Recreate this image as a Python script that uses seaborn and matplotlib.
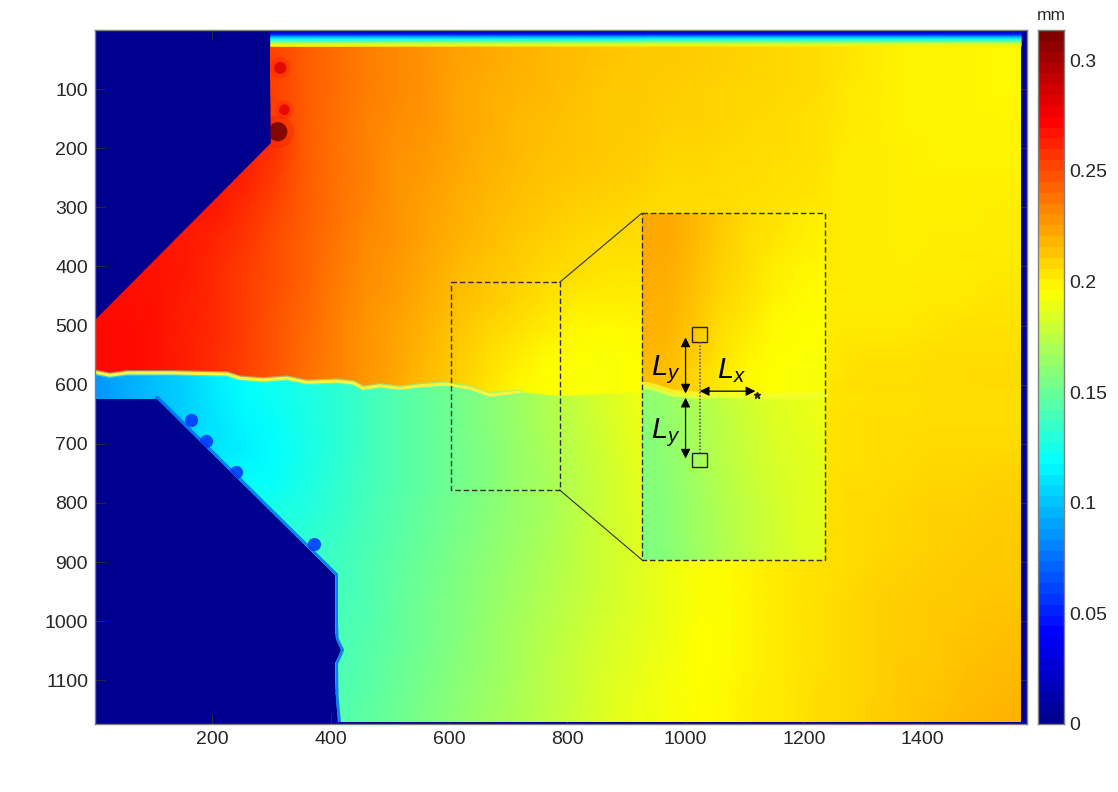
import numpy as np
import matplotlib
matplotlib.use("Agg")
import matplotlib.pyplot as plt
import seaborn as sns
from matplotlib.colors import LinearSegmentedColormap
from matplotlib.patches import Polygon, Rectangle
from matplotlib.transforms import Affine2D

# displacement, in 0.001 mm, nodes about 51 image units apart
upper_rows = [
    [258,258,258,258,258,258,251,246,241,236,232,229,225,222,220,218,216,214,213,212,211,210,209,208,207,204,201,199,199,199,198,198],
    [258,258,258,258,258,258,254,246,241,236,232,229,225,222,220,218,216,214,213,212,211,210,209,208,207,204,201,199,199,199,198,198],
    [260,260,260,260,260,260,254,246,241,236,232,228,224,221,219,217,215,213,212,211,210,209,209,208,206,203,201,199,199,199,198,198],
    [262,262,262,262,262,262,256,246,240,235,231,228,224,221,218,216,214,213,212,210,210,209,208,207,205,203,201,199,199,199,199,199],
    [264,264,264,264,264,264,259,246,240,235,230,227,223,220,217,215,214,212,211,209,209,208,207,206,205,202,201,200,199,199,199,199],
    [266,266,266,266,266,264,256,246,239,234,229,226,222,219,216,214,212,211,210,208,208,207,206,205,204,202,201,200,200,200,200,200],
    [268,268,268,268,266,260,253,245,239,233,228,225,221,218,215,212,210,209,208,207,207,206,205,204,203,202,201,200,200,200,201,201],
    [268,268,268,267,263,258,251,244,238,232,228,224,220,216,213,210,208,207,206,205,205,204,204,203,203,202,201,200,201,201,202,202],
    [269,269,269,266,262,256,250,244,237,231,227,222,218,214,211,208,206,204,204,204,204,203,203,203,203,202,201,201,202,202,203,203],
    [270,270,269,265,261,255,249,243,236,230,226,221,216,212,209,205,202,201,201,201,202,202,202,202,202,202,202,202,203,203,204,204],
    [271,271,269,265,261,255,248,242,235,229,224,219,214,209,205,201,198,197,198,199,199,200,201,201,202,203,203,203,204,205,205,205],
    [271,271,269,265,260,254,248,241,234,228,223,217,212,206,201,196,195,194,195,196,197,198,199,200,202,204,205,205,206,206,207,207],
    [271,271,269,265,260,254,247,240,233,227,222,215,210,204,198,195,194,194,195,196,197,198,199,200,202,205,206,206,207,207,208,208],
    [271,271,269,265,260,254,247,240,233,227,222,215,210,204,198,195,194,194,195,196,197,198,199,200,202,205,206,207,208,208,208,208],
]
lower_rows = [
    [85,92,98,104,112,118,122,126,131,137,143,148,153,159,165,171,178,184,190,195,198,199,201,202,203,204,205,205,206,206,207,207],
    [85,92,98,104,112,118,122,126,131,137,143,148,153,159,165,171,178,184,190,195,198,199,201,202,203,204,205,205,206,206,207,207],
    [85,90,96,103,110,116,120,125,131,137,143,148,153,159,165,171,177,183,189,194,196,198,200,202,204,205,206,207,207,207,207,207],
    [110,110,110,110,110,113,118,124,131,137,143,148,153,158,164,170,176,182,188,192,195,197,200,202,204,205,206,207,208,208,208,208],
    [118,118,118,118,118,118,120,126,132,138,143,148,153,158,163,169,175,181,187,191,194,197,200,202,204,206,207,208,209,209,210,210],
    [126,126,126,126,126,126,126,128,133,139,144,149,154,159,164,169,175,181,186,190,194,197,200,203,205,207,208,209,210,210,211,211],
    [132,132,132,132,132,132,132,132,135,140,145,150,155,160,165,170,176,181,186,190,194,197,200,203,205,207,208,209,210,211,212,212],
    [136,136,136,136,136,136,136,136,137,141,146,151,156,161,166,171,176,181,186,190,194,197,200,203,205,207,209,210,211,212,213,213],
    [138,138,138,138,138,138,138,138,139,142,147,152,157,162,167,172,177,182,186,191,194,197,200,203,205,208,210,211,212,213,214,214],
    [140,140,140,140,140,140,140,140,140,143,148,153,158,163,168,173,178,183,187,191,195,197,200,203,205,208,210,211,212,214,215,216],
    [140,140,140,140,140,140,140,140,140,144,149,154,159,164,169,174,179,184,188,192,195,197,200,203,205,208,210,212,213,215,216,217],
    [141,141,141,141,141,141,141,141,141,145,150,155,160,165,170,175,180,185,189,193,195,198,201,203,206,208,210,212,214,216,218,219],
    [142,142,142,142,142,142,142,142,142,146,151,156,161,166,171,176,181,186,190,193,196,198,201,203,206,208,211,213,215,217,219,220],
]

# the enlarged view, same units
inset_upper_rows = [
    [222,222,218,212,208,205,202,200],
    [222,222,217,211,207,204,201,199],
    [222,221,216,210,206,202,199,198],
    [221,220,215,209,205,200,198,196],
    [220,219,214,207,203,198,196,195],
    [219,218,212,205,200,197,195,194],
    [216,215,209,203,198,195,194,193],
    [216,215,209,203,198,195,194,193],
]
inset_lower_rows = [
    [163,165,172,178,183,187,190,192],
    [160,163,170,176,181,185,188,190],
    [158,162,168,174,179,184,187,189],
    [157,161,167,173,178,183,186,188],
    [157,160,166,172,177,182,185,188],
    [156,160,166,171,177,181,185,187],
    [156,159,165,171,176,181,184,187],
]
top_strip = [0, 20, 50, 90, 120, 150, 180, 200]

# crack path and specimen outline, chart units
crack_x = [2,27,56,134,225,247,286,326,360,411,438,455,484,517,551,594,636,670,720,788,923,1024,1236,1567]
crack_y = [579,584,580,580,582,589,592,589,596,594,597,606,602,606,602,599,606,618,612,619,612,618,612,606]
glow_end = 19
inset_crack_x = [926,940,977,1024,1058,1143,1235]
inset_crack_y = [601,602,614,619,616,619,618]
notch_top_x = [2,299,298]
notch_top_y = [491,191,75]
notch_low_x = [2,107,408,408,409,418,408,409,413]
notch_low_y = [624,624,922,1000,1030,1049,1072,1130,1171]
spot_x = [315,322,311]
spot_y = [64,135,172]
spot_sizes = [75,60,190]
spot_colors = ["#e00000","#e80000","#700000"]
blob_x = [165,190,240,372]
blob_y = [660,695,748,870]

x_ticks = [200,400,600,800,1000,1200,1400]
y_ticks = [100,200,300,400,500,600,700,800,900,1000,1100]
bar_ticks = [0,0.05,0.1,0.15,0.2,0.25,0.3]
VMAX = 0.3136

sns.set_theme(style="white")
plt.rcParams["font.family"] = ["Liberation Sans", "DejaVu Sans"]
plt.rcParams["mathtext.fontset"] = "custom"
plt.rcParams["mathtext.it"] = "Liberation Sans:italic"
plt.rcParams["mathtext.rm"] = "Liberation Sans"

W, H = 1118, 792
fig = plt.figure(figsize=(W/100, H/100), dpi=100)
ax = fig.add_axes([95/W, 1-724/H, 932/W, 694/H])
cax = fig.add_axes([1038/W, 1-724/H, 26/W, 694/H])

# jet as the original software has it, yellow at 5/8
jet_anchors = [(0, "#00008f"), (1/8, "#0000ff"), (3/8, "#00ffff"), (5/8, "#ffff00"), (7/8, "#ff0000"), (1, "#800000")]
smooth = LinearSegmentedColormap.from_list("jet_ml", jet_anchors, N=256)
stepped = LinearSegmentedColormap.from_list("jet_ml64", jet_anchors, N=64)
ax.set_facecolor("#00008f")


def draw_field(rows, x0, dx, y0, dy, clip, zorder=1):
    sns.heatmap(np.array(rows)/1000, ax=ax, cmap=smooth, vmin=0, vmax=VMAX, cbar=False,
                xticklabels=False, yticklabels=False, shading="gouraud")
    mesh = ax.collections[-1]
    mesh.set_transform(Affine2D().scale(dx, dy).translate(x0, y0) + ax.transData)
    mesh.set_zorder(zorder)
    if clip is not None:
        mesh.set_clip_path(Polygon(clip, transform=ax.transData))
    return mesh


# clip outlines follow the crack and the notches, the lower part runs a little under the upper one
top_y, bottom_y, right_x = 26, 1171, 1567
overlap = 4
upper_clip = [(notch_top_x[2], top_y), (right_x, top_y)]
upper_clip += list(zip(crack_x[::-1], crack_y[::-1]))
upper_clip += list(zip(notch_top_x, notch_top_y)) + [(notch_top_x[2], top_y)]
lower_clip = [(x, y-overlap) for x, y in zip(crack_x, crack_y)] + [(right_x, bottom_y)]
lower_clip += list(zip(notch_low_x[::-1], notch_low_y[::-1]))

draw_field(lower_rows, 2, 1575/31, 558, 51.3, lower_clip)
draw_field(upper_rows, 2, 1575/31, 0, 1575/31, upper_clip, zorder=1.1)

# strip along the top edge
strip = np.column_stack([top_strip, top_strip])
draw_field(strip, 299, 1268, 0, 3.9, None, zorder=1.2)

# blue rim along the lower notch, only the slanted part and below
low_patch = Polygon(lower_clip, transform=ax.transData)
rim, = ax.plot(notch_low_x[1:], notch_low_y[1:], color="#0060ff", lw=4, alpha=0.8, zorder=1.3)
rim.set_clip_path(low_patch)
sns.scatterplot(x=blob_x, y=blob_y, ax=ax, s=90, color="#0030ff", alpha=0.85, linewidth=0, zorder=1.3)
ax.collections[-1].set_clip_path(low_patch)
up_patch = Polygon(upper_clip, transform=ax.transData)
sns.scatterplot(x=spot_x, y=spot_y, ax=ax, s=[s*3 for s in spot_sizes], color="#f01800", alpha=0.3, linewidth=0, zorder=1.3)
ax.collections[-1].set_clip_path(up_patch)
sns.scatterplot(x=spot_x, y=spot_y, hue=spot_colors, palette={c: c for c in spot_colors},
                ax=ax, s=spot_sizes, alpha=0.85, linewidth=0, legend=False, zorder=1.31)
ax.collections[-1].set_clip_path(up_patch)

# bright line along the crack
ax.plot(crack_x[:glow_end], crack_y[:glow_end], color="#60ffc0", lw=4, alpha=0.5, zorder=1.4)
ax.plot(crack_x[:glow_end], crack_y[:glow_end], color="#fff23a", lw=2.2, zorder=1.5)

# enlarged view
inset_left, inset_right, inset_top, inset_bottom = 926, 1235, 310, 896
inset_up = [(inset_left, inset_top), (inset_right, inset_top)] + list(zip(inset_crack_x[::-1], inset_crack_y[::-1]))
inset_low = [(x, y-overlap) for x, y in zip(inset_crack_x, inset_crack_y)] + [(inset_right, inset_bottom), (inset_left, inset_bottom)]
draw_field(inset_lower_rows, inset_left, 309/7, 592, 50.8, inset_low, zorder=2)
draw_field(inset_upper_rows, inset_left, 309/7, 310, 45.1, inset_up, zorder=2.1)
ax.plot(inset_crack_x, inset_crack_y, color="#f4ff30", lw=5, alpha=0.75, zorder=2.2)

dash = dict(fill=False, ec="#303030", lw=1, ls=(0, (4, 2)), zorder=3)
ax.add_patch(Rectangle((603, 427), 184, 351, **dash))
ax.add_patch(Rectangle((inset_left, inset_top), 309, 586, **dash))
ax.plot([787, inset_left], [427, inset_top], color="#303030", lw=0.8, zorder=3)
ax.plot([787, inset_left], [778, inset_bottom], color="#303030", lw=0.8, zorder=3)

# gauge marks
for gy in [515, 727]:
    ax.add_patch(Rectangle((1011, gy-12), 25, 24, fill=False, ec="#202020", lw=1, zorder=4))
ax.plot([1024, 1024], [527, 715], color="#606060", lw=1.2, ls=(0, (1, 1)), zorder=4)
arrow = dict(arrowstyle="<|-|>", color="black", lw=0.9, mutation_scale=14, shrinkA=0, shrinkB=0)
ax.annotate("", xy=(1000, 520), xytext=(1000, 615), arrowprops=arrow, zorder=5)
ax.annotate("", xy=(1000, 622), xytext=(1000, 725), arrowprops=arrow, zorder=5)
ax.annotate("", xy=(1024, 611), xytext=(1118, 611), arrowprops=arrow, zorder=5)
ax.plot([1120], [618], marker="*", ms=5, color="#202020", zorder=5)
ax.text(967, 575, r"$L_y$", fontsize=21, color="black", ha="center", va="center", zorder=5)
ax.text(967, 682, r"$L_y$", fontsize=21, color="black", ha="center", va="center", zorder=5)
ax.text(1078, 577, r"$L_x$", fontsize=21, color="black", ha="center", va="center", zorder=5)

# colour bar
levels = np.linspace(VMAX, 0, 64).reshape(-1, 1)
sns.heatmap(levels, ax=cax, cmap=stepped, vmin=0, vmax=VMAX, cbar=False, xticklabels=False, yticklabels=False)
cax.set_ylim(64, 0)
bar_pos = [(VMAX-t)/VMAX*64 for t in bar_ticks]
cax.yaxis.tick_right()
cax.set_yticks(bar_pos, [f"{t:g}" for t in bar_ticks])
cax.tick_params(axis="y", direction="in", length=7, width=0.6, color="#303030", labelsize=14, labelcolor="#262626", pad=4, right=True, labelright=True, left=False, labelleft=False)
fig.text(1051/W, 1-16/H, "mm", fontsize=12.5, color="#262626", ha="center", va="center")

ax.set_xlim(2, 1577)
ax.set_ylim(1174, 0)
ax.set_xticks(x_ticks, [str(v) for v in x_ticks])
ax.set_yticks(y_ticks, [str(v) for v in y_ticks])
ax.tick_params(direction="in", length=7, width=0.6, color="#303030", labelsize=14, labelcolor="#262626", top=True, right=True, bottom=True, left=True, pad=5)
ax.set_xlabel("x (pixels)", fontsize=15, color="#262626", labelpad=3)
ax.set_ylabel("y (pixels)", fontsize=15, color="#262626", labelpad=4)
for a in [ax, cax]:
    for s in a.spines.values():
        s.set_visible(True)
        s.set_color("#808080")
        s.set_linewidth(1)

fig.savefig("out.png", dpi=100)
